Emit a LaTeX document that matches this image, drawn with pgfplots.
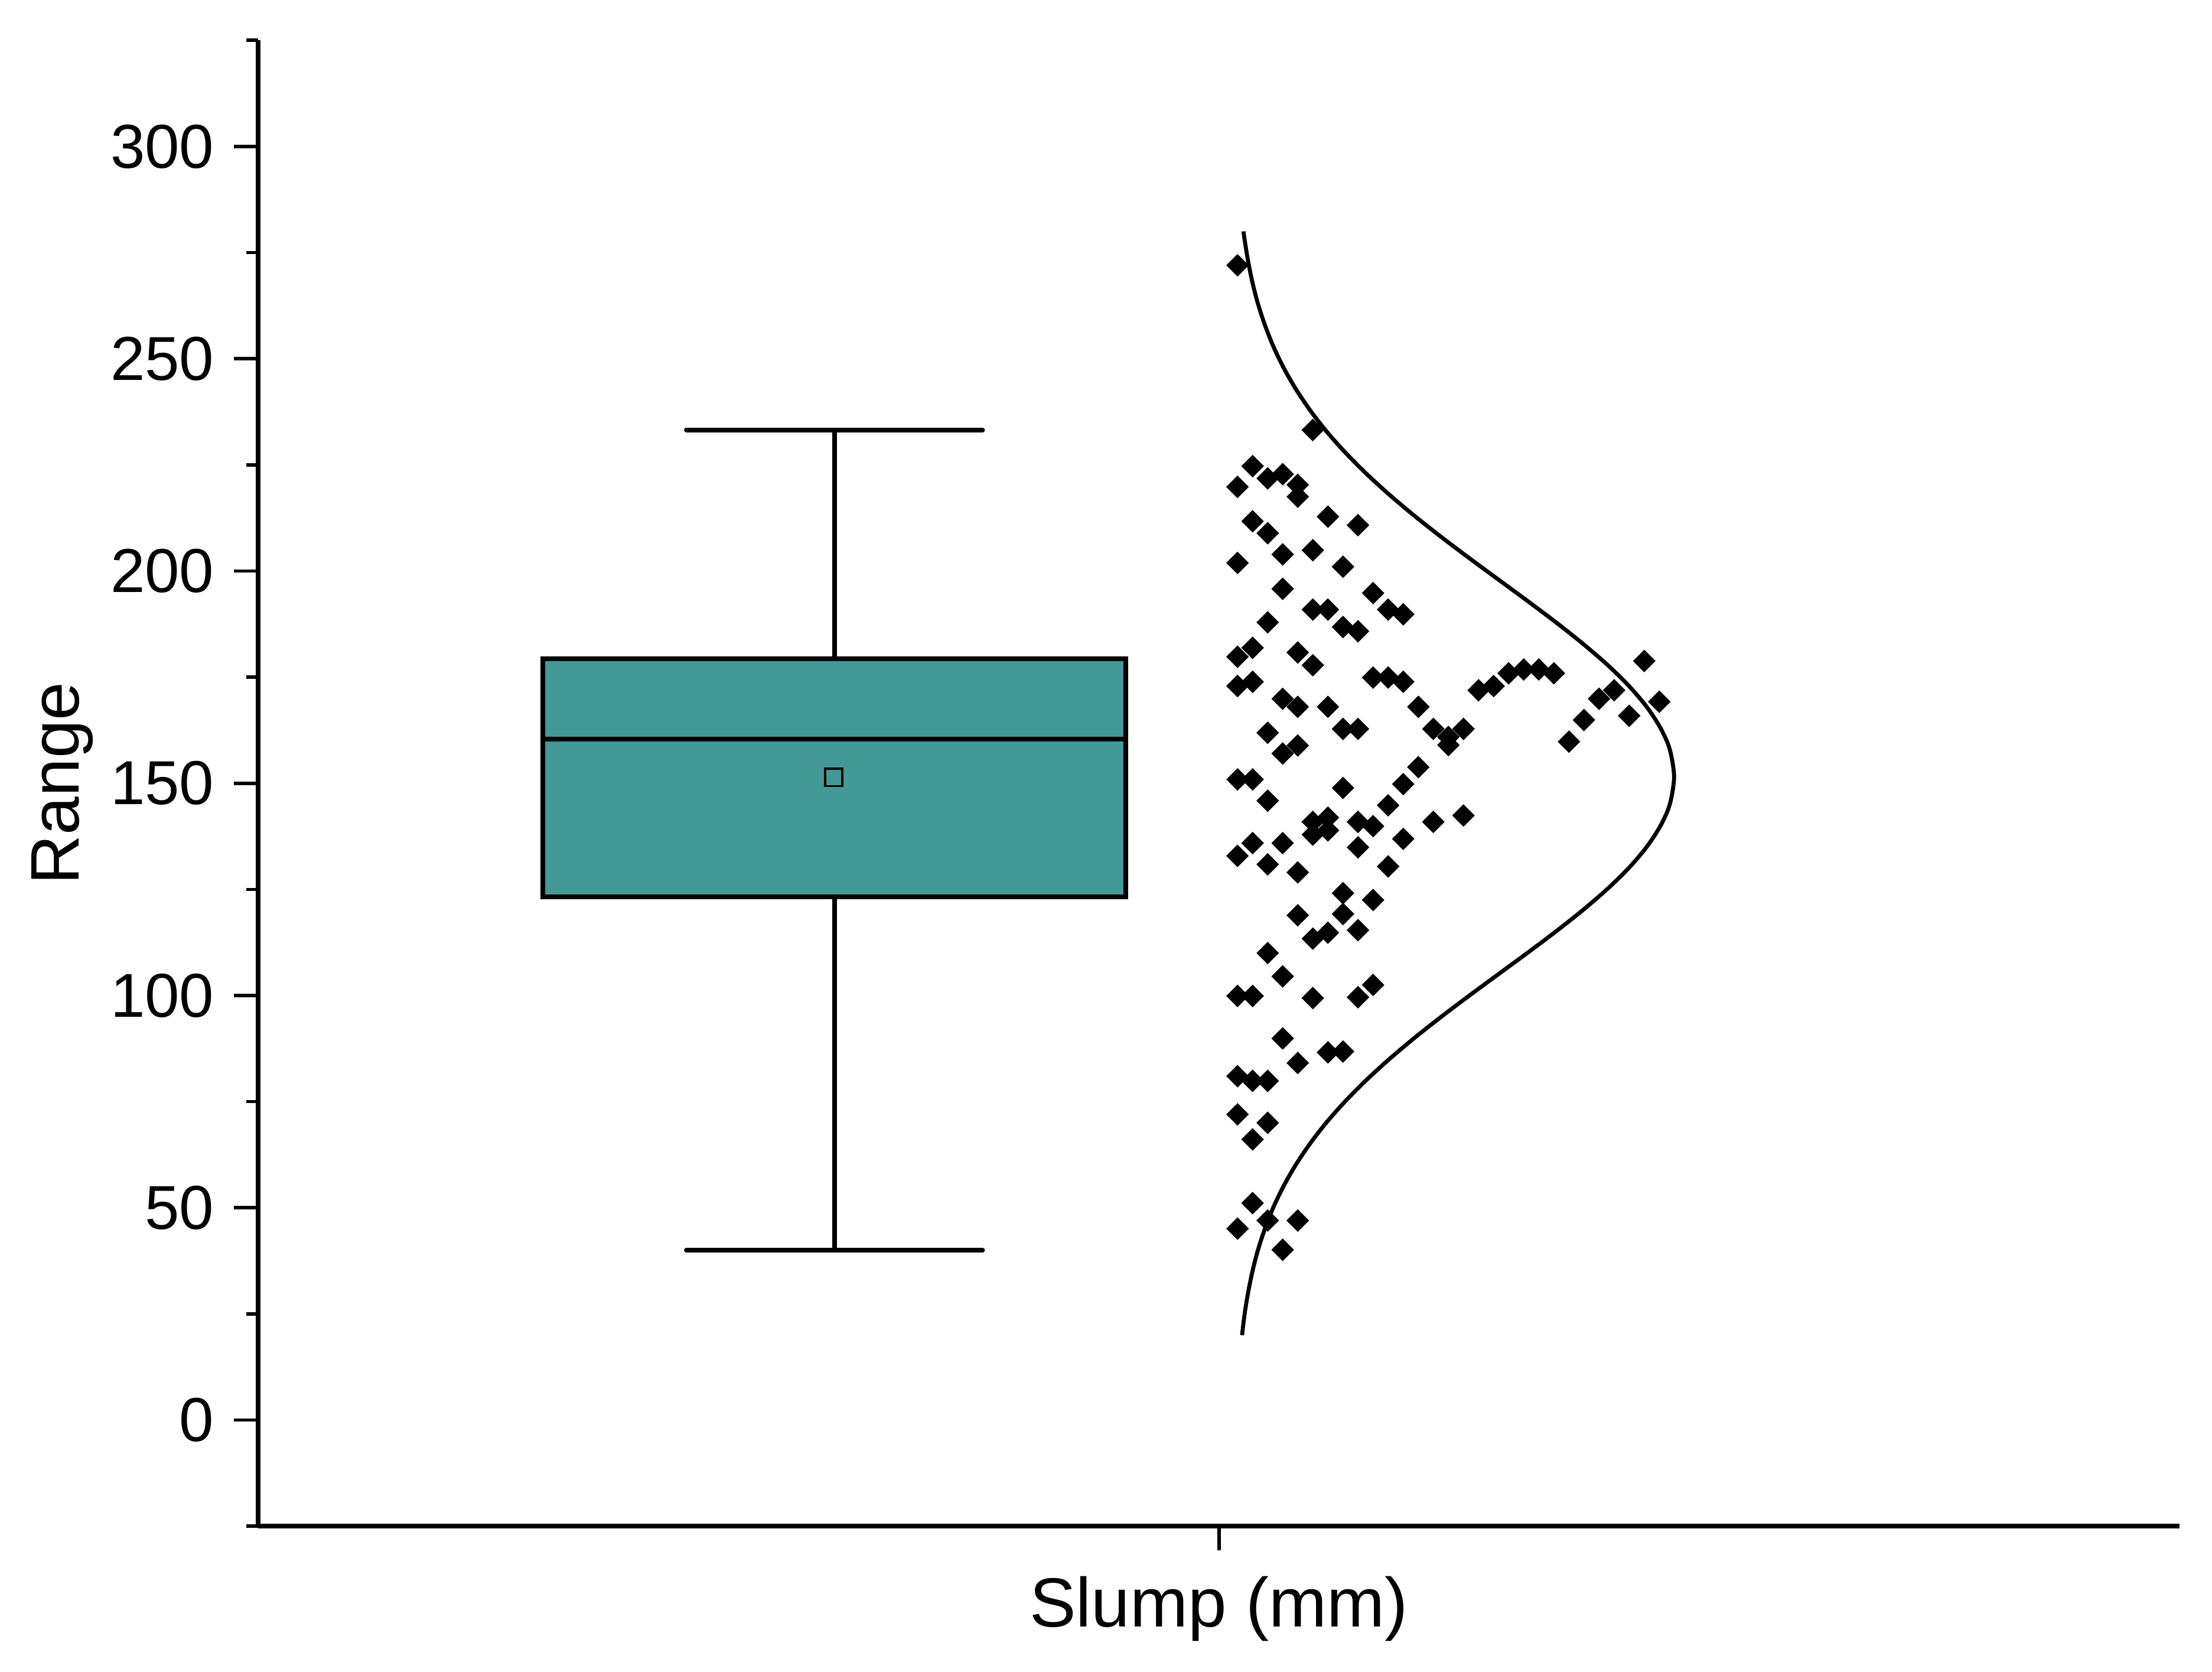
\documentclass[border=0pt]{standalone}
\usepackage{fontspec}
\setmainfont{Liberation Sans}
\usepackage{pgfplots}
\pgfplotsset{compat=1.18}

\definecolor{boxcol}{RGB}{67,153,152}

\begin{document}
\begin{tikzpicture}
\begin{axis}[
    scale only axis,
    width=433.7pt, height=335.3pt,
    xmin=0, xmax=2, ymin=-25, ymax=325,
    axis lines*=left,
    axis line style={line width=1.1pt},
    tick align=outside,
    tick style={line width=0.75pt, black},
    major tick length=5.5pt, minor tick length=2.7pt,
    xtick={1}, xticklabels={},
    ytick={0,50,...,300},
    minor ytick={-25,25,...,325},
    /pgf/number format/assume math mode=true,
    yticklabel style={font=\fontsize{14}{16}\selectfont, anchor=east, inner sep=0pt, xshift=-4.3pt},
    xlabel={Slump (mm)}, ylabel={Range},
    every axis x label/.style={at={(axis description cs:0.5,-0.0677)}, anchor=base,
        font=\fontsize{15.7}{18}\selectfont},
    every axis y label/.style={at={(axis description cs:-0.0934,0.5)}, rotate=90, anchor=base,
        font=\fontsize{15.5}{18}\selectfont},
]

% box plot: whiskers, caps, box, median
\addplot[black, line width=1.0pt] coordinates {(0.5998,179.3) (0.5998,233.2)};
\addplot[black, line width=1.0pt] coordinates {(0.5998,123.3) (0.5998,40.0)};
\addplot[black, line width=1.0pt, line cap=round] coordinates {(0.4455,233.2) (0.7540,233.2)};
\addplot[black, line width=1.0pt, line cap=round] coordinates {(0.4455,40.0) (0.7540,40.0)};
\addplot[draw=black, fill=boxcol, line width=1.05pt] coordinates {
    (0.2963,123.3) (0.9032,123.3) (0.9032,179.3) (0.2963,179.3)} -- cycle;
\addplot[black, line width=1.05pt] coordinates {(0.2963,160.4) (0.9032,160.4)};

% mean
\addplot[only marks, mark=square, mark size=1.95pt,
    mark options={draw=black, fill=none, line width=0.45pt}] coordinates {(0.5990,151.4)};

% normal curve
\addplot[black, line width=0.9pt, smooth] coordinates {
(1.0240,20) (1.0267,25) (1.0303,30) (1.0348,35) (1.0405,40) (1.0477,45)
(1.0564,50) (1.0670,55) (1.0796,60) (1.0944,65) (1.1115,70) (1.1311,75)
(1.1530,80) (1.1772,85) (1.2034,90) (1.2314,95) (1.2607,100) (1.2907,105)
(1.3208,110) (1.3502,115) (1.3781,120) (1.4038,125) (1.4264,130) (1.4452,135)
(1.4596,140) (1.4692,145) (1.4737,151.5) (1.4692,158) (1.4596,163) (1.4452,168)
(1.4264,173) (1.4038,178) (1.3781,183) (1.3502,188) (1.3208,193) (1.2907,198)
(1.2607,203) (1.2314,208) (1.2034,213) (1.1772,218) (1.1530,223) (1.1311,228)
(1.1115,233) (1.0944,238) (1.0796,243) (1.0670,248) (1.0564,253) (1.0477,258)
(1.0405,263) (1.0348,268) (1.0303,273) (1.0267,278) (1.0255,280)
};

% data points
\addplot[only marks, mark=square*, mark size=1.6pt,
    mark options={rotate=45, draw=black, fill=black}] coordinates {
(1.0193,272.0) (1.0193,219.8) (1.0193,201.9) (1.0193,179.8) (1.0193,172.9) (1.0193,150.9)
(1.0193,132.9) (1.0193,99.9) (1.0193,81.0) (1.0193,72.0) (1.0193,45.1)
(1.0350,224.7) (1.0350,211.7) (1.0350,181.9) (1.0350,173.9) (1.0350,150.9) (1.0350,135.9)
(1.0350,99.9) (1.0350,79.9) (1.0350,66.1) (1.0350,51.1)
(1.0507,221.8) (1.0507,208.9) (1.0507,187.9) (1.0507,161.9) (1.0507,145.9) (1.0507,130.9)
(1.0507,110.0) (1.0507,79.9) (1.0507,70.0) (1.0507,47.0)
(1.0663,222.8) (1.0663,203.9) (1.0663,195.8) (1.0663,169.9) (1.0663,157.0) (1.0663,135.9)
(1.0663,104.5) (1.0663,89.9) (1.0663,40.1)
(1.0820,220.3) (1.0820,217.5) (1.0820,180.8) (1.0820,168.0) (1.0820,158.9) (1.0820,129.0)
(1.0820,118.9) (1.0820,84.1) (1.0820,47.0)
(1.0977,233.2) (1.0977,204.9) (1.0977,190.9) (1.0977,177.8) (1.0977,140.9) (1.0977,137.9)
(1.0977,113.4) (1.0977,99.4)
(1.1134,212.8) (1.1134,190.9) (1.1134,168.0) (1.1134,141.9) (1.1134,138.9) (1.1134,114.8)
(1.1134,86.6)
(1.1291,201.0) (1.1291,186.8) (1.1291,162.8) (1.1291,148.9) (1.1291,124.1) (1.1291,119.2)
(1.1291,86.8)
(1.1447,210.8) (1.1447,185.8) (1.1447,162.8) (1.1447,140.9) (1.1447,134.9) (1.1447,115.4)
(1.1447,99.6)
(1.1604,194.8) (1.1604,174.9) (1.1604,139.9) (1.1604,122.5) (1.1604,102.5)
(1.1761,190.9) (1.1761,174.9) (1.1761,144.8) (1.1761,130.4)
(1.1918,189.8) (1.1918,173.9) (1.1918,149.8) (1.1918,136.9)
(1.2075,168.0) (1.2075,153.8)
(1.2231,162.8) (1.2231,140.9)
(1.2388,160.9) (1.2388,159.0)
(1.2545,162.8) (1.2545,142.4)
(1.2702,171.9) (1.2859,172.9) (1.3015,175.9) (1.3172,176.8) (1.3329,176.8) (1.3486,175.9)
(1.3643,159.8) (1.3799,164.9) (1.3956,169.9) (1.4113,171.9) (1.4270,165.9) (1.4427,178.8)
(1.4583,169.2)
};

\coordinate (sw) at (rel axis cs:0,0);
\coordinate (ne) at (rel axis cs:1,1);
\end{axis}
\path ([shift={(-58.3pt,-32.8pt)}]sw) rectangle ([shift={(7.3pt,9.1pt)}]ne);
\end{tikzpicture}
\end{document}
